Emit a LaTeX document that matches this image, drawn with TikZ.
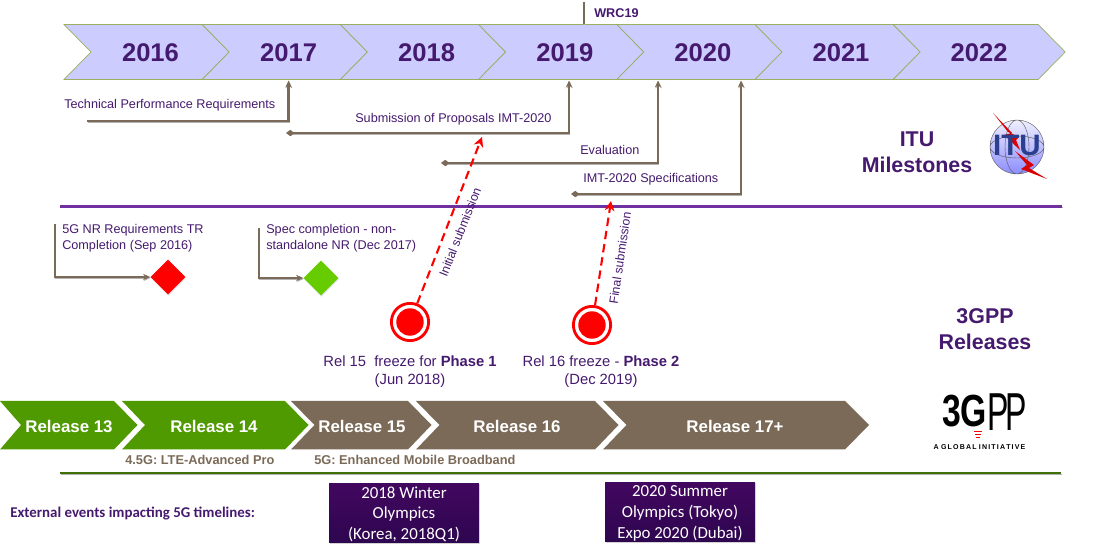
\documentclass[tikz,border=0pt]{standalone}
\usepackage{fontspec}
\setmainfont{Liberation Sans}
\newfontfamily\carlito{Carlito}
\usepackage{xcolor}
\usetikzlibrary{arrows.meta, shapes.geometric, shadows}
\definecolor{itupurple}{HTML}{451A6E}
\definecolor{relbrown}{HTML}{7B6A58}
\definecolor{relgreen}{HTML}{4F9A00}
\definecolor{yearfill}{HTML}{CCCCFF}
\definecolor{yearline}{HTML}{9BAF5F}
\definecolor{ruleviolet}{HTML}{7030A0}
\definecolor{rulegreen}{HTML}{3F7006}
\definecolor{goalgreen}{HTML}{66CC00}
\definecolor{eventtop}{HTML}{42075F}
\definecolor{eventbot}{HTML}{2E0650}
\definecolor{itublue}{HTML}{2B3F8F}
\tikzset{
    softshadow/.style={preaction={draw=black!30, transform canvas={shift={(0.5pt,-0.6pt)}}}},
    yearbar/.style={fill=yearfill, draw=yearline, line width=0.5pt},
    yearlabel/.style={font=\fontsize{18.2}{20}\selectfont\bfseries, text=itupurple},
    milestone/.style={font=\fontsize{9}{11}\selectfont, text=itupurple, inner sep=0pt},
    heading/.style={font=\fontsize{15.2}{18.5}\selectfont\bfseries, text=itupurple, align=center},
    brownline/.style={draw=relbrown, line width=1.5pt, softshadow},
    toyear/.style={brownline, -{Stealth[length=5pt,width=4.5pt]}},
    fromto/.style={brownline, {Diamond[length=6pt,width=4.5pt]}-{Stealth[length=5pt,width=4.5pt]}},
    submit/.style={draw=red, line width=1.5pt, dash pattern=on 6pt off 3.5pt, -{Stealth[length=7pt,width=7pt]}},
    freezering/.style={circle, draw=red, line width=2pt, fill=white, minimum size=26.5pt, inner sep=0pt, drop shadow={opacity=0.3, shadow xshift=0.5pt, shadow yshift=-0.8pt}},
    freezedot/.style={circle, fill=red, minimum size=19.5pt, inner sep=0pt},
    rellabel/.style={font=\fontsize{12}{14}\selectfont\bfseries, text=white},
    sublabel/.style={font=\fontsize{9.1}{11}\selectfont\bfseries, text=relbrown, inner sep=0pt},
    eventbox/.style={draw=none, top color=eventtop, bottom color=eventbot, minimum width=106.5pt, minimum height=42.5pt, inner sep=0pt, align=center, text=white, font=\carlito\fontsize{12}{14.8}\selectfont, drop shadow={opacity=0.35, shadow xshift=0.5pt, shadow yshift=-0.8pt}},
    goal/.style={diamond, minimum size=25pt, inner sep=0pt, drop shadow={opacity=0.25, shadow xshift=0.4pt, shadow yshift=-0.8pt}},
}

\begin{document}
\begin{tikzpicture}[x=0.025cm, y=-0.025cm, >=stealth]
    \useasboundingbox (0,0) rectangle (1112,556);

    % years
    \foreach \yr [count=\i from 0] in {2016,2017,2018,2019,2020,2021,2022} {
        \pgfmathsetmacro{\xl}{64+138.2*\i}
        \pgfmathsetmacro{\xw}{\i==6 ? 145 : 138.2}
        \draw[yearbar] (\xl,24.5) -- (\xl+\xw,24.5) -- (\xl+\xw+27,52) -- (\xl+\xw,79.5) -- (\xl,79.5) -- (\xl+27,52) -- cycle;
    }
    \foreach \yr [count=\i from 0] in {2016,2017,2018,2019,2020,2021,2022} {
        \pgfmathsetmacro{\xc}{150.5+138.1*\i}
        \node[yearlabel] (y\yr) at (\xc,53) {\yr};
    }

    % ITU milestones
    \coordinate (wrctop) at (584,2);
    \coordinate (wrcbar) at (584,24);
    \draw[brownline] (wrctop) -- (wrcbar);
    \node[milestone, font=\fontsize{9}{11}\selectfont\bfseries, anchor=west] (wrc) at (594,13.5) {WRC19};

    \node[milestone, anchor=west] (techreq) at (64,105) {Technical Performance Requirements};
    \coordinate (techa) at (87,121);
    \coordinate (techb) at (288.5,80.5);
    \draw[toyear] (techa) -| (techb);

    \node[milestone, anchor=west] (proposals) at (355,119) {Submission of Proposals IMT-2020};
    \coordinate (propa) at (286,133);
    \coordinate (propb) at (569,80.5);
    \draw[fromto] (propa) -| (propb);

    \node[milestone, anchor=west] (evaluation) at (580,150) {Evaluation};
    \coordinate (evala) at (441,163);
    \coordinate (evalb) at (658,80.5);
    \draw[fromto] (evala) -| (evalb);

    \node[milestone, anchor=west] (imtspec) at (583,179) {IMT-2020 Specifications};
    \coordinate (speca) at (571,194);
    \coordinate (specb) at (741,80.5);
    \draw[fromto] (speca) -| (specb);

    \node[heading] (itutitle) at (917,152.5) {ITU\\Milestones};

    % ITU logo
    \coordinate (itulogo) at (1017,147);
    \shade[top color=blue!6!white, bottom color=blue!45!white] (itulogo) circle (27);
    \draw[gray!70!black, line width=0.3pt] (itulogo) circle (27) (itulogo) ellipse (12 and 27) (itulogo) ellipse (27 and 11);
    \fill[red!85!black] (993,113) -- (1012,133) -- (1004,135) -- (1020,150) -- (1016,140) -- (1019,137) -- (1008,132) -- cycle;
    \fill[red!85!black] (1047,179) -- (1021,169) -- (1027,165) -- (1015,151) -- (1034,165) -- (1029,168) -- cycle;
    \node[font=\fontsize{21}{23}\selectfont\bfseries, text=itublue, inner sep=0pt] (itumark) at (1017,145) {ITU};

    \coordinate (purplea) at (60,206.5);
    \coordinate (purpleb) at (1062,206.5);
    \draw[line width=1.7pt, draw=ruleviolet, softshadow] (purplea) -- (purpleb);

    % 3GPP milestones
    \node[milestone, anchor=north west, align=left, font=\fontsize{9}{11.2}\selectfont] (nrreq) at (62,224) {5G NR Requirements TR\\Completion (Sep 2016)};
    \node[goal, fill=red] (redgoal) at (168,277) {};
    \coordinate (reda) at (55,224);
    \draw[brownline, -{Stealth[length=5pt,width=4.5pt]}] (reda) |- (redgoal);

    \node[milestone, anchor=north west, align=left, font=\fontsize{9}{11.2}\selectfont] (nsa) at (266,224) {Spec completion - non-\\standalone NR (Dec 2017)};
    \node[goal, fill=goalgreen] (greengoal) at (321,278) {};
    \coordinate (greena) at (259,228);
    \draw[brownline, -{Stealth[length=5pt,width=4.5pt]}] (greena) |- (greengoal);

    \node[freezering] (rel15ring) at (410,322) {};
    \node[freezedot] (rel15dot) at (410,322) {};
    \node[freezering] (rel16ring) at (592,325) {};
    \node[freezedot] (rel16dot) at (592,325) {};

    \coordinate (initend) at (482,137);
    \coordinate (finalend) at (611,201);
    \draw[submit] (rel15ring) -- (initend);
    \draw[submit] (rel16ring) -- (finalend);
    \node[milestone, font=\fontsize{8.8}{10}\selectfont, rotate=68.5] (initlabel) at (460,232) {Initial submission};
    \node[milestone, font=\fontsize{8.8}{10}\selectfont, rotate=81.5] (finallabel) at (620,258) {Final submission};

    \node[milestone, font=\fontsize{10.5}{12.8}\selectfont, align=center] (rel15text) at (410,372) {Rel 15\ \ freeze for \textbf{Phase 1}\\(Jun 2018)};
    \node[milestone, font=\fontsize{10.5}{12.8}\selectfont, align=center] (rel16text) at (601,372) {Rel 16 freeze - \textbf{Phase 2}\\(Dec 2019)};

    \node[heading] (gpptitle) at (985,329.5) {3GPP\\Releases};

    % releases
    \fill[relgreen] (0,401) -- (114,401) -- (137.5,425) -- (114,449.5) -- (0,449.5) -- (21,425) -- cycle;
    \fill[relgreen] (122,401) -- (285,401) -- (308.5,425) -- (285,449.5) -- (122,449.5) -- (145,425) -- cycle;
    \fill[relbrown] (291,401) -- (408,401) -- (431.5,425) -- (408,449.5) -- (291,449.5) -- (314.5,425) -- cycle;
    \fill[relbrown] (416,401) -- (595,401) -- (618.5,425) -- (595,449.5) -- (416,449.5) -- (439.5,425) -- cycle;
    \fill[relbrown] (603,401) -- (845,401) -- (869,425) -- (845,449.5) -- (603,449.5) -- (626.5,425) -- cycle;
    \node[rellabel] (rel13) at (69,426) {Release 13};
    \node[rellabel] (rel14) at (214,426) {Release 14};
    \node[rellabel] (rel15) at (362,426) {Release 15};
    \node[rellabel] (rel16) at (517,426) {Release 16};
    \node[rellabel] (rel17) at (735,426) {Release 17+};

    % 3GPP logo
    \node[font=\fontsize{32}{32}\selectfont\bfseries, inner sep=0pt, xscale=0.75] (logo3g) at (964.5,411.5) {3G};
    \node[font=\fontsize{38}{38}\selectfont, inner sep=0pt, xscale=0.6] (logopp) at (1007,412.5) {P\kern-0.1em P};
    \draw[red, line width=0.6pt] (974,431) -- (982,431) (975,434) -- (981,434) (976,437) -- (980,437);
    \node[font=\fontsize{5}{6}\selectfont\bfseries, inner sep=0pt] (logotag) at (979.5,447.5) {A\,\,G\,L\,O\,B\,A\,L\,\,I\,N\,I\,T\,I\,A\,T\,I\,V\,E};

    \node[sublabel, anchor=west] (ltepro) at (125,460) {4.5G: LTE-Advanced Pro};
    \node[sublabel, anchor=west] (embb) at (314,460) {5G: Enhanced Mobile Broadband};
    \coordinate (greenlinea) at (60,473);
    \coordinate (greenlineb) at (1061,473);
    \draw[line width=1.6pt, draw=rulegreen, softshadow] (greenlinea) -- (greenlineb);

    % events
    \node[anchor=west, inner sep=0pt, text=itupurple, font=\carlito\bfseries\fontsize{10.6}{12}\selectfont] (external) at (10,513.5) {External events impacting 5G timelines:};
    \node[eventbox] (winter) at (404,513) {\rule{0pt}{10pt}2018 Winter\\Olympics\\(Korea, 2018Q1)};
    \node[eventbox] (summer) at (680,512) {\rule{0pt}{10pt}2020 Summer\\Olympics (Tokyo)\\Expo 2020 (Dubai)};
\end{tikzpicture}
\end{document}
